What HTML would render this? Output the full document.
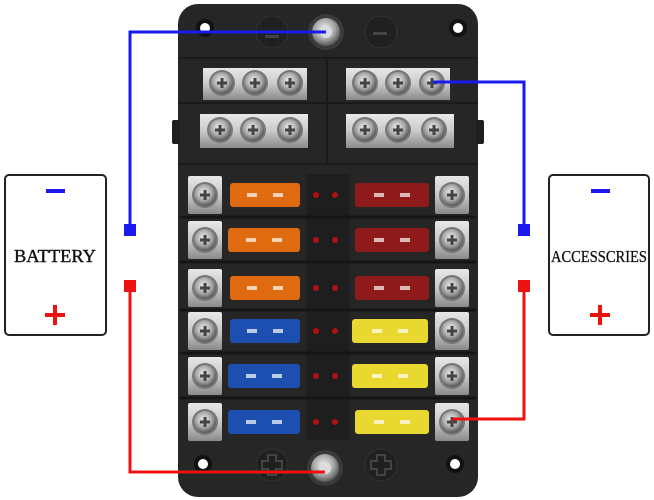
<!DOCTYPE html>
<html><head><meta charset="utf-8"><style>
html,body{margin:0;padding:0;background:#fff;width:654px;height:500px;overflow:hidden}
svg{display:block}
text{font-family:"Liberation Serif",serif}
</style></head><body>
<svg width="654" height="500" viewBox="0 0 654 500" xmlns="http://www.w3.org/2000/svg">
<defs>
<radialGradient id="scr" cx="45%" cy="40%" r="60%">
<stop offset="0" stop-color="#f2f2f2"/><stop offset="0.6" stop-color="#a8a8a8"/><stop offset="1" stop-color="#555"/>
</radialGradient>
<linearGradient id="bar" x1="0" y1="0" x2="0" y2="1">
<stop offset="0" stop-color="#e8e8e8"/><stop offset="0.5" stop-color="#c9c9c9"/><stop offset="1" stop-color="#8a8a8a"/>
</linearGradient>
<g id="screw"><circle r="13" fill="#777"/><circle r="11" fill="url(#scr)"/><path d="M-5 -1.5h10v3h-10zM-1.5 -5h3v10h-3z" fill="#444"/></g>
<g id="term"><rect x="-17" y="-19" width="34" height="38" rx="2" fill="url(#bar)"/><use href="#screw"/></g>
<g id="blade"><rect x="8" y="-2" width="10" height="4" fill="#fff" opacity="0.7"/><rect x="-18" y="-2" width="10" height="4" fill="#fff" opacity="0.7"/></g>
</defs>

<rect x="178" y="4" width="300" height="493" rx="20" fill="#262626"/>
<rect x="172" y="120" width="8" height="24" rx="2" fill="#1f1f1f"/>
<rect x="476" y="120" width="8" height="24" rx="2" fill="#1f1f1f"/>
<line x1="178" y1="58" x2="478" y2="58" stroke="#1a1a1a" stroke-width="2"/>
<line x1="178" y1="103" x2="478" y2="103" stroke="#1a1a1a" stroke-width="2"/>
<line x1="178" y1="164" x2="478" y2="164" stroke="#1a1a1a" stroke-width="2"/>
<line x1="327" y1="58" x2="327" y2="164" stroke="#1a1a1a" stroke-width="2"/>
<circle cx="205" cy="28" r="9" fill="#111"/><circle cx="205" cy="28" r="5" fill="#fff"/>
<circle cx="458" cy="28" r="9" fill="#111"/><circle cx="458" cy="28" r="5" fill="#fff"/>
<circle cx="203" cy="464" r="9" fill="#111"/><circle cx="203" cy="464" r="5" fill="#fff"/>
<circle cx="455" cy="464" r="9" fill="#111"/><circle cx="455" cy="464" r="5" fill="#fff"/>
<circle cx="272" cy="32" r="16" fill="#202020" stroke="#333"/>
<circle cx="381" cy="32" r="16" fill="#202020" stroke="#333"/>
<rect x="265" y="35" width="14" height="3" fill="#444"/>
<rect x="373" y="32" width="14" height="3" fill="#444"/>
<circle cx="272" cy="465" r="16" fill="#202020" stroke="#333"/>
<circle cx="381" cy="465" r="16" fill="#202020" stroke="#333"/>
<path d="M268 455h8v6h6v8h-6v6h-8v-6h-6v-8h6z" fill="none" stroke="#444" stroke-width="2"/>
<path d="M377 455h8v6h6v8h-6v6h-8v-6h-6v-8h6z" fill="none" stroke="#444" stroke-width="2"/>
<circle cx="326" cy="32" r="18" fill="#3a3a3a"/><circle cx="326" cy="32" r="14" fill="url(#scr)"/><circle cx="326" cy="32" r="6" fill="#ddd"/>
<circle cx="325" cy="468" r="18" fill="#3a3a3a"/><circle cx="325" cy="468" r="14" fill="url(#scr)"/><circle cx="325" cy="468" r="6" fill="#ddd"/>
<rect x="203" y="68" width="104" height="32" fill="url(#bar)"/>
<rect x="346" y="68" width="104" height="32" fill="url(#bar)"/>
<rect x="200" y="114" width="108" height="34" fill="url(#bar)"/>
<rect x="346" y="114" width="108" height="34" fill="url(#bar)"/>
<use href="#screw" x="222" y="83"/><use href="#screw" x="255" y="83"/><use href="#screw" x="290" y="83"/>
<use href="#screw" x="365" y="83"/><use href="#screw" x="398" y="83"/><use href="#screw" x="432" y="83"/>
<use href="#screw" x="220" y="130"/><use href="#screw" x="253" y="130"/><use href="#screw" x="290" y="130"/>
<use href="#screw" x="365" y="130"/><use href="#screw" x="398" y="130"/><use href="#screw" x="434" y="130"/>
<rect x="306" y="174" width="44" height="266" fill="#1e1e1e"/>
<g>
<g transform="translate(0,195)"><line x1="180" y1="22" x2="476" y2="22" stroke="#151515" stroke-width="3"/><use href="#term" x="205"/><use href="#term" x="452"/><rect x="230" y="-12" width="70" height="24" rx="3" fill="#e06a10"/><use href="#blade" x="265"/><rect x="355" y="-12" width="74" height="24" rx="3" fill="#8e1a1a"/><use href="#blade" x="392"/><circle cx="316" r="3" fill="#b01010"/><circle cx="335" r="3" fill="#b01010"/></g>
<g transform="translate(0,240)"><line x1="180" y1="22" x2="476" y2="22" stroke="#151515" stroke-width="3"/><use href="#term" x="205"/><use href="#term" x="452"/><rect x="228" y="-12" width="72" height="24" rx="3" fill="#e06a10"/><use href="#blade" x="264"/><rect x="355" y="-12" width="74" height="24" rx="3" fill="#8e1a1a"/><use href="#blade" x="392"/><circle cx="316" r="3" fill="#b01010"/><circle cx="335" r="3" fill="#b01010"/></g>
<g transform="translate(0,288)"><line x1="180" y1="22" x2="476" y2="22" stroke="#151515" stroke-width="3"/><use href="#term" x="205"/><use href="#term" x="452"/><rect x="230" y="-12" width="70" height="24" rx="3" fill="#e06a10"/><use href="#blade" x="265"/><rect x="355" y="-12" width="74" height="24" rx="3" fill="#8e1a1a"/><use href="#blade" x="392"/><circle cx="316" r="3" fill="#b01010"/><circle cx="335" r="3" fill="#b01010"/></g>
<g transform="translate(0,331)"><line x1="180" y1="22" x2="476" y2="22" stroke="#151515" stroke-width="3"/><use href="#term" x="205"/><use href="#term" x="452"/><rect x="230" y="-12" width="70" height="24" rx="3" fill="#1d4fb0"/><use href="#blade" x="265"/><rect x="352" y="-12" width="76" height="24" rx="3" fill="#e8d830"/><use href="#blade" x="390"/><circle cx="316" r="3" fill="#b01010"/><circle cx="335" r="3" fill="#b01010"/></g>
<g transform="translate(0,376)"><line x1="180" y1="22" x2="476" y2="22" stroke="#151515" stroke-width="3"/><use href="#term" x="205"/><use href="#term" x="452"/><rect x="228" y="-12" width="72" height="24" rx="3" fill="#1d4fb0"/><use href="#blade" x="264"/><rect x="352" y="-12" width="76" height="24" rx="3" fill="#e8d830"/><use href="#blade" x="390"/><circle cx="316" r="3" fill="#b01010"/><circle cx="335" r="3" fill="#b01010"/></g>
<g transform="translate(0,422)"><use href="#term" x="205"/><use href="#term" x="452"/><rect x="228" y="-12" width="72" height="24" rx="3" fill="#1d4fb0"/><use href="#blade" x="264"/><rect x="355" y="-12" width="74" height="24" rx="3" fill="#e8d830"/><use href="#blade" x="392"/><circle cx="316" r="3" fill="#b01010"/><circle cx="335" r="3" fill="#b01010"/></g>
</g>

<polyline points="130,230 130,32 326,32" fill="none" stroke="#1a1aee" stroke-width="3"/>
<rect x="124" y="224" width="12" height="12" fill="#1a1aee"/>
<polyline points="433,82 524,82 524,230" fill="none" stroke="#1a1aee" stroke-width="3"/>
<rect x="518" y="224" width="12" height="12" fill="#1a1aee"/>
<polyline points="130,286 130,472 325,472" fill="none" stroke="#ee1111" stroke-width="3"/>
<rect x="124" y="280" width="12" height="12" fill="#ee1111"/>
<polyline points="524,286 524,419 452,419" fill="none" stroke="#ee1111" stroke-width="3"/>
<rect x="518" y="280" width="12" height="12" fill="#ee1111"/>

<rect x="5" y="175" width="101" height="160" rx="4" fill="#fff" stroke="#222" stroke-width="2"/>
<rect x="46" y="189" width="19" height="4" fill="#1a1aee"/>
<rect x="45" y="313" width="20" height="4" fill="#ee1111"/><rect x="53" y="305" width="4" height="20" fill="#ee1111"/>
<text x="55" y="262" font-size="18" text-anchor="middle" fill="#111" stroke="#111" stroke-width="0.4" textLength="82" lengthAdjust="spacingAndGlyphs">BATTERY</text>
<rect x="549" y="175" width="100" height="160" rx="4" fill="#fff" stroke="#222" stroke-width="2"/>
<rect x="591" y="189" width="19" height="4" fill="#1a1aee"/>
<rect x="590" y="313" width="20" height="4" fill="#ee1111"/><rect x="598" y="305" width="4" height="20" fill="#ee1111"/>
<text x="599" y="262" font-size="17" text-anchor="middle" fill="#111" stroke="#111" stroke-width="0.3" textLength="96" lengthAdjust="spacingAndGlyphs">ACCESSCRIES</text>
</svg>
</body></html>
